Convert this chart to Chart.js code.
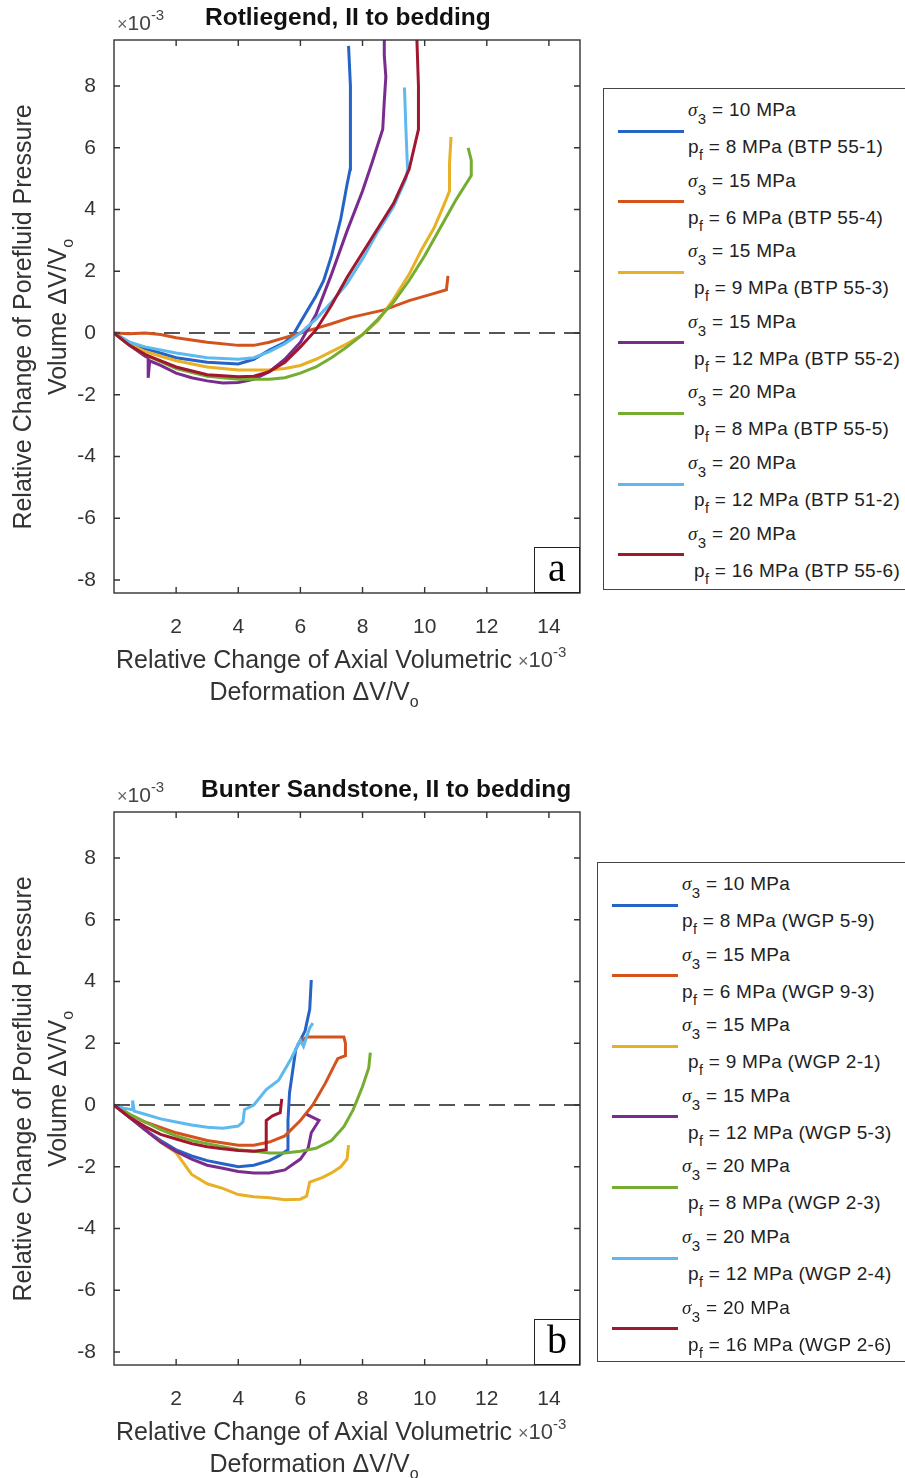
<!DOCTYPE html>
<html>
<head>
<meta charset="utf-8">
<script src="https://cdn.jsdelivr.net/npm/chart.js@4.4.1/dist/chart.umd.min.js"></script>
<style>
  body { margin: 0; background: #fff; font-family: 'Liberation Sans', Arial, sans-serif; }
  #page { position: relative; width: 905px; height: 1478px; overflow: hidden; background: #fff; }
  .panel { position: absolute; left: 0; width: 600px; height: 740px; }
  .panel canvas { position: absolute; left: 0; top: 0; }
  .ttl { position: absolute; top: 3px; font-weight: bold; font-size: 24.5px; color: #111; white-space: nowrap; }
  .topexp { position: absolute; left: 117px; top: 6px; font-size: 21px; color: #444; white-space: nowrap; }
  .topexp .x, .xexp .x { font-size: 18px; color: #666; }
  sup { font-size: 15px; vertical-align: 10px; }
  .ytitle { position: absolute; left: -210px; top: 282px; width: 500px; height: 70px; line-height: 35px; font-size: 25px; color: #333; text-align: center; transform: rotate(-90deg); white-space: nowrap; }
  .xtitle { position: absolute; left: 116px; top: 643px; font-size: 25px; line-height: 32px; color: #333; text-align: center; white-space: nowrap; }
  .xexp { position: absolute; left: 402px; top: -7px; font-size: 22px; color: #444; }
  .sub { font-size: 16px; vertical-align: -7px; }
  .tag { position: absolute; left: 534px; top: 547px; width: 44px; height: 44px; border: 1.5px solid #222; background: #fff; font-family: 'Liberation Serif', 'Times New Roman', serif; font-size: 40px; line-height: 40px; text-align: center; }
  .legend { position: absolute; width: 330px; height: 500px; border: 1px solid #444; background: #fff; }
  .legend .smp { position: absolute; width: 66px; height: 3px; }
  .legend .lab { position: absolute; font-size: 19px; letter-spacing: 0.3px; color: #222; white-space: pre; line-height: 20px; }
  .legend .sig { font-family: 'Liberation Serif', serif; font-style: italic; }
  .legend .s3 { font-size: 15px; vertical-align: -8px; }
  .legend .sf { font-size: 14px; vertical-align: -7px; }
</style>
</head>
<body>
<div id="page">
  <div class="panel" id="panelA" style="top:0px">
    <canvas id="chartA" width="600" height="740"></canvas>
    <div class="ttl" id="titleA" style="left:205px"></div>
    <div class="topexp"><span class="x">×</span>10<sup>-3</sup></div>
    <div class="ytitle">Relative Change of Porefluid Pressure<br>Volume ΔV/V<span class="sub">o</span></div>
    <div class="xtitle">Relative Change of Axial Volumetric<span class="xexp"><span class="x">×</span>10<sup>-3</sup></span><br>Deformation ΔV/V<span class="sub">o</span></div>
    <div class="tag">a</div>
  </div>
  <div class="panel" id="panelB" style="top:772px">
    <canvas id="chartB" width="600" height="740"></canvas>
    <div class="ttl" id="titleB" style="left:201px"></div>
    <div class="topexp"><span class="x">×</span>10<sup>-3</sup></div>
    <div class="ytitle">Relative Change of Porefluid Pressure<br>Volume ΔV/V<span class="sub">o</span></div>
    <div class="xtitle">Relative Change of Axial Volumetric<span class="xexp"><span class="x">×</span>10<sup>-3</sup></span><br>Deformation ΔV/V<span class="sub">o</span></div>
    <div class="tag">b</div>
  </div>
  <div class="legend" id="legendA" style="left:603px; top:88px; height:500px"></div>
  <div class="legend" id="legendB" style="left:597px; top:862px; height:498px"></div>
</div>
<script>
// Titles and ticks
const titleRot = 'Rotliegend, II to bedding';
const titleBunter = 'Bunter Sandstone, II to bedding';
const xTicks = [2, 4, 6, 8, 10, 12, 14];
const yTicks = [-8, -6, -4, -2, 0, 2, 4, 6, 8];

// legend text
const sigma3 = ['10', '15', '15', '15', '20', '20', '20'];
const porePressure = ['8', '6', '9', '12', '8', '12', '16'];
const rotSamples = ['BTP 55-1', 'BTP 55-4', 'BTP 55-3', 'BTP 55-2', 'BTP 55-5', 'BTP 51-2', 'BTP 55-6'];
const bunterSamples = ['WGP 5-9', 'WGP 9-3', 'WGP 2-1', 'WGP 5-3', 'WGP 2-3', 'WGP 2-4', 'WGP 2-6'];

// dashed zero line
const zeroX = [0, 15];
const zeroY = [0, 0];

// Rotliegend (x and y in 1e-3)
const btp551X = [0, 0.5, 1, 2, 3, 4, 4.5, 5, 5.5, 5.8, 6, 6.5, 6.75, 7, 7.3, 7.5, 7.6, 7.62, 7.6, 7.55];
const btp551Y = [0, -0.3, -0.5, -0.8, -0.95, -1.0, -0.85, -0.55, -0.3, 0, 0.35, 1.2, 1.7, 2.5, 3.7, 4.8, 5.3, 6.5, 8.0, 9.3];
const btp554X = [0, 0.5, 1, 1.5, 2, 3, 4, 4.5, 5, 5.5, 6, 6.5, 7, 7.6, 8.7, 9.5, 10.2, 10.7, 10.75];
const btp554Y = [0, -0.02, 0, -0.05, -0.15, -0.3, -0.4, -0.4, -0.3, -0.15, 0, 0.15, 0.3, 0.5, 0.75, 1.05, 1.25, 1.4, 1.85];
const btp553X = [0, 0.5, 1, 2, 3, 4, 5, 5.5, 6, 6.5, 7, 7.5, 8, 8.5, 9, 9.5, 9.9, 10.3, 10.6, 10.8, 10.8, 10.85];
const btp553Y = [0, -0.35, -0.6, -0.9, -1.1, -1.2, -1.2, -1.15, -1.05, -0.85, -0.6, -0.35, -0.05, 0.4, 1.1, 1.9, 2.7, 3.4, 4.1, 4.6, 5.5, 6.35];
const btp552X = [0, 0.5, 1, 1.1, 1.1, 1.15, 1.5, 2, 2.5, 3, 3.5, 4, 4.5, 5, 5.5, 6, 6.5, 7, 7.5, 8, 8.3, 8.65, 8.7, 8.75, 8.7, 8.7];
const btp552Y = [0, -0.4, -0.75, -0.8, -1.45, -0.9, -1.05, -1.3, -1.45, -1.55, -1.62, -1.6, -1.5, -1.25, -0.85, -0.3, 0.6, 1.9, 3.3, 4.6, 5.5, 6.6, 7.5, 8.3, 9.0, 9.5];
const btp555X = [0, 0.5, 1, 2, 3, 4, 5, 5.5, 6, 6.5, 7, 7.5, 8, 8.5, 9, 9.5, 10, 10.5, 11, 11.5, 11.5, 11.4];
const btp555Y = [0, -0.4, -0.7, -1.15, -1.4, -1.5, -1.5, -1.45, -1.3, -1.1, -0.8, -0.45, -0.05, 0.45, 1.0, 1.7, 2.5, 3.4, 4.3, 5.1, 5.6, 6.0];
const btp512X = [0, 0.5, 1, 2, 3, 4, 4.5, 5, 5.5, 6, 6.5, 7, 7.5, 8, 8.5, 9, 9.4, 9.45, 9.4, 9.35];
const btp512Y = [0, -0.3, -0.45, -0.65, -0.8, -0.85, -0.8, -0.6, -0.35, 0, 0.45, 1.0, 1.6, 2.4, 3.3, 4.1, 5.0, 5.3, 6.5, 7.95];
const btp556X = [0, 0.5, 1, 2, 3, 4, 4.5, 5, 5.5, 6, 6.5, 7, 7.5, 8, 8.5, 9, 9.5, 9.8, 9.8, 9.75];
const btp556Y = [0, -0.4, -0.7, -1.1, -1.35, -1.42, -1.4, -1.25, -0.95, -0.45, 0.1, 0.9, 1.8, 2.6, 3.4, 4.2, 5.3, 6.6, 8.0, 9.5];

// Bunter Sandstone
const wgp59X = [0, 0.5, 1, 1.5, 2, 2.5, 3, 3.5, 4, 4.5, 5, 5.3, 5.6, 5.6, 5.65, 5.85, 6.15, 6.3, 6.35];
const wgp59Y = [0, -0.4, -0.8, -1.15, -1.45, -1.65, -1.8, -1.9, -2.0, -1.95, -1.8, -1.65, -1.45, -0.5, 0.4, 1.8, 2.4, 3.1, 4.05];
const wgp93X = [0, 0.5, 1, 2, 3, 4, 4.5, 5, 5.5, 6, 6.4, 6.8, 7.1, 7.2, 7.45, 7.45, 7.4, 6.2, 5.9];
const wgp93Y = [0, -0.3, -0.55, -0.9, -1.15, -1.3, -1.3, -1.2, -1.0, -0.5, 0, 0.7, 1.3, 1.5, 1.6, 2.0, 2.2, 2.2, 1.95];
const wgp21X = [0, 0.5, 1, 1.5, 2, 2.5, 3, 3.5, 4, 4.5, 5, 5.5, 6, 6.2, 6.3, 6.7, 7, 7.3, 7.5, 7.55];
const wgp21Y = [0, -0.4, -0.8, -1.2, -1.55, -2.25, -2.55, -2.7, -2.9, -2.97, -3.0, -3.07, -3.05, -2.95, -2.5, -2.35, -2.2, -2.0, -1.75, -1.3];
const wgp53X = [0, 0.5, 1, 1.5, 2, 2.5, 3, 3.5, 4, 4.5, 5, 5.5, 6, 6.25, 6.35, 6.6, 6.2];
const wgp53Y = [0, -0.4, -0.8, -1.2, -1.5, -1.75, -1.95, -2.05, -2.15, -2.2, -2.2, -2.1, -1.75, -1.4, -0.9, -0.5, -0.3];
const wgp23X = [0, 0.5, 1, 1.5, 2, 2.5, 3, 3.5, 4, 4.5, 5, 5.5, 6, 6.5, 7, 7.4, 7.7, 8.0, 8.2, 8.25];
const wgp23Y = [0, -0.3, -0.55, -0.8, -1.0, -1.15, -1.25, -1.35, -1.45, -1.5, -1.55, -1.55, -1.5, -1.4, -1.15, -0.7, -0.15, 0.6, 1.2, 1.7];
const wgp24X = [0, 0.3, 0.6, 0.6, 0.65, 1, 1.5, 2, 2.5, 3, 3.5, 4, 4.15, 4.2, 4.5, 4.9, 5.3, 5.7, 6.0, 6.1, 6.3, 6.4];
const wgp24Y = [0, -0.1, -0.15, 0.15, -0.2, -0.3, -0.45, -0.55, -0.65, -0.72, -0.75, -0.68, -0.55, -0.15, 0, 0.5, 0.8, 1.5, 2.1, 1.9, 2.5, 2.65];
const wgp26X = [0, 0.5, 1, 1.5, 2, 2.5, 3, 3.5, 4, 4.5, 4.9, 4.9, 5.1, 5.35, 5.4];
const wgp26Y = [0, -0.4, -0.7, -0.95, -1.1, -1.25, -1.35, -1.42, -1.47, -1.5, -1.45, -0.5, -0.35, -0.25, 0.2];

const lineColors = ['#2563C6', '#D4531D', '#E8B024', '#7A2C8E', '#74AD31', '#5DB9EE', '#A0172F'];
const fontFamily = "'Liberation Sans', Arial, sans-serif";

const rotSeries = [[btp551X, btp551Y], [btp554X, btp554Y], [btp553X, btp553Y], [btp552X, btp552Y], [btp555X, btp555Y], [btp512X, btp512Y], [btp556X, btp556Y]];
const bunterSeries = [[wgp59X, wgp59Y], [wgp93X, wgp93Y], [wgp21X, wgp21Y], [wgp53X, wgp53Y], [wgp23X, wgp23Y], [wgp24X, wgp24Y], [wgp26X, wgp26Y]];

function toPoints(xs, ys) {
  return xs.map((x, i) => ({ x: x, y: ys[i] }));
}

// box + inward ticks like matlab
const framePlugin = {
  id: 'frame',
  afterDraw(chart) {
    const { ctx, chartArea: a, scales } = chart;
    ctx.save();
    ctx.strokeStyle = '#333';
    ctx.lineWidth = 1.4;
    ctx.strokeRect(a.left, a.top, a.right - a.left, a.bottom - a.top);
    ctx.beginPath();
    xTicks.forEach(v => {
      const px = scales.x.getPixelForValue(v);
      ctx.moveTo(px, a.bottom); ctx.lineTo(px, a.bottom - 6);
      ctx.moveTo(px, a.top); ctx.lineTo(px, a.top + 6);
    });
    yTicks.forEach(v => {
      const py = scales.y.getPixelForValue(v);
      ctx.moveTo(a.left, py); ctx.lineTo(a.left + 6, py);
      ctx.moveTo(a.right, py); ctx.lineTo(a.right - 6, py);
    });
    ctx.stroke();
    ctx.restore();
  }
};

function makeChart(id, series) {
  const datasets = series.map((s, i) => ({
    data: toPoints(s[0], s[1]),
    showLine: true,
    borderColor: lineColors[i],
    borderWidth: 3,
    pointRadius: 0,
    tension: 0,
    order: 10 - i
  }));
  datasets.push({
    data: toPoints(zeroX, zeroY),
    showLine: true,
    borderColor: '#555',
    borderWidth: 2,
    borderDash: [16, 9],
    pointRadius: 0,
    order: 20
  });
  return new Chart(document.getElementById(id), {
    type: 'scatter',
    data: { datasets: datasets },
    options: {
      responsive: false,
      animation: false,
      layout: { padding: { top: 40, right: 20, left: 0, bottom: 0 } },
      plugins: { legend: { display: false }, tooltip: { enabled: false } },
      scales: {
        x: {
          type: 'linear', min: 0, max: 15,
          afterBuildTicks: s => { s.ticks = xTicks.map(v => ({ value: v })); },
          afterFit: s => { s.height = 147; },
          grid: { display: false },
          border: { display: false },
          ticks: { font: { size: 21, family: fontFamily }, color: '#333', padding: 14, maxRotation: 0, autoSkip: false }
        },
        y: {
          type: 'linear', min: -8.42, max: 9.49,
          afterBuildTicks: s => { s.ticks = yTicks.map(v => ({ value: v })); },
          afterFit: s => { s.width = 114; },
          grid: { display: false },
          border: { display: false },
          ticks: { font: { size: 21, family: fontFamily }, color: '#333', padding: 10, autoSkip: false }
        }
      }
    },
    plugins: [framePlugin]
  });
}

function buildLegend(id, samples, textLeft) {
  const box = document.getElementById(id);
  samples.forEach((name, i) => {
    const yc = 42 + i * 70.6;
    const smp = document.createElement('div');
    smp.className = 'smp';
    smp.style.left = (textLeft - 70) + 'px';
    smp.style.top = (yc - 1.5) + 'px';
    smp.style.background = lineColors[i];
    box.appendChild(smp);
    const l1 = document.createElement('div');
    l1.className = 'lab';
    l1.style.left = textLeft + 'px';
    l1.style.top = (yc - 31) + 'px';
    l1.innerHTML = '<span class="sig">σ</span><span class="s3">3</span> = ' + sigma3[i] + ' MPa';
    box.appendChild(l1);
    const l2 = document.createElement('div');
    l2.className = 'lab';
    l2.style.left = (textLeft + (i >= 2 ? 6 : 0)) + 'px';
    l2.style.top = (yc + 6) + 'px';
    l2.innerHTML = 'p<span class="sf">f</span> = ' + porePressure[i] + ' MPa (' + name + ')';
    box.appendChild(l2);
  });
}

document.getElementById('titleA').textContent = titleRot;
document.getElementById('titleB').textContent = titleBunter;
makeChart('chartA', rotSeries);
makeChart('chartB', bunterSeries);
buildLegend('legendA', rotSamples, 84);
buildLegend('legendB', bunterSamples, 84);
</script>
</body>
</html>
